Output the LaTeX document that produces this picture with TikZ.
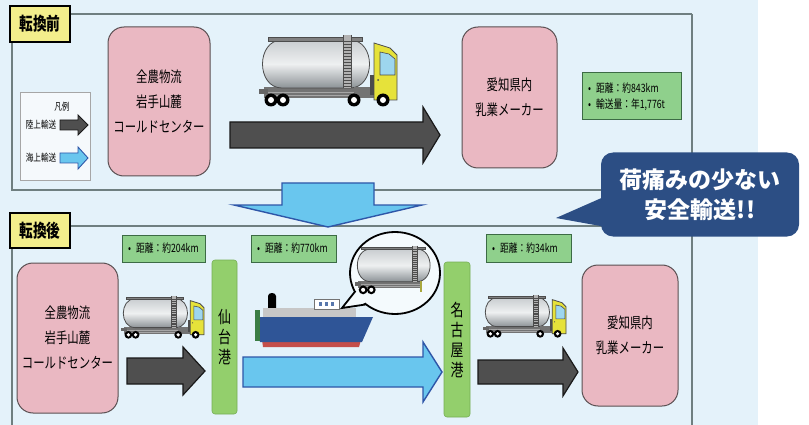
\documentclass[tikz,border=0pt]{standalone}
\usepackage{fontspec}
\setmainfont{Noto Sans CJK JP}
\newfontfamily\jp[FakeStretch=0.76]{Noto Sans CJK JP}
\newfontfamily\jpn{Noto Sans CJK JP}
\usetikzlibrary{calc}

\definecolor{bgblue}{HTML}{E4F2FA}
\definecolor{framegrey}{HTML}{6F7F80}
\definecolor{pinkfill}{HTML}{EAB8C2}
\definecolor{pinkline}{HTML}{5A5052}
\definecolor{infofill}{HTML}{8FD08C}
\definecolor{infoline}{HTML}{3C6B45}
\definecolor{portfill}{HTML}{93CF6C}
\definecolor{portline}{HTML}{76AE55}
\definecolor{tagfill}{HTML}{F3EE8C}
\definecolor{landfill}{HTML}{4F4F4F}
\definecolor{seafill}{HTML}{69C6EE}
\definecolor{sealine}{HTML}{2E56A8}
\definecolor{callfill}{HTML}{2C4E84}
\definecolor{legendfill}{HTML}{F5F9FC}
\definecolor{tankT}{HTML}{C9CDD0}
\definecolor{tankM}{HTML}{EEF0F1}
\definecolor{tankB}{HTML}{8C9296}
\definecolor{cabyellow}{HTML}{E6E23A}
\definecolor{winblue}{HTML}{9DD6EE}
\definecolor{hullblue}{HTML}{2F5597}
\definecolor{hullred}{HTML}{C44E4A}
\definecolor{bowgreen}{HTML}{3A7D44}

\tikzset{
  site/.style={draw=pinkline, line width=1pt, fill=pinkfill, rounded corners=16pt,
    font=\jp\fontsize{15}{25}\selectfont, align=center, inner sep=0pt},
  infobox/.style={draw=infoline, line width=1pt, fill=infofill,
    font=\jp\fontsize{11.5}{16}\selectfont, align=left, inner sep=0pt},
  portbox/.style={draw=portline, line width=0.6pt, fill=portfill, rounded corners=3pt,
    font=\jp\fontsize{17}{20}\selectfont, align=center, inner sep=0pt},
  phasetag/.style={draw=black, line width=1.3pt, fill=tagfill,
    font=\jp\bfseries\fontsize{18}{20}\selectfont, inner sep=0pt},
  panelframe/.style={draw=framegrey, line width=1.3pt},
  landarrow/.style={draw=black!90, line width=1.2pt, fill=landfill, line join=miter},
  seaarrow/.style={draw=sealine, line width=1.2pt, fill=seafill, line join=miter},
  legendtext/.style={font=\jp\fontsize{10}{12}\selectfont, inner sep=0pt},
  outl/.style={draw=black!70, line width=0.8pt},
  % tank trailer: tank, ladder, chassis and rear wheels
  tanktrailer/.pic={
    \fill[black!55] (2,50) rectangle (92,61);
    \draw[black!35, line width=0.5pt] (4,55) -- (92,55) (4,58) -- (92,58);
    \fill[black!60] (-3,52) rectangle (6,57);
    \draw[outl, top color=tankT, bottom color=tankB, middle color=tankM]
      (20,3) -- (88,3) .. controls (114,3) and (114,51) .. (88,51)
      -- (20,51) .. controls (-6,51) and (-6,3) .. (20,3) -- cycle;
    \draw[outl, fill=black!50] (6,0) rectangle (100,4);
    \fill[black!30] (81,-2) rectangle (89,51);
    \draw[black!70, line width=0.7pt] (81,-2) -- (81,51) (89,-2) -- (89,51);
    \foreach \r in {4,10,...,46} {\draw[black!70, line width=0.6pt] (81,\r) rectangle (89,\r+3);}
    \foreach \w in {9,21} {
      \fill[black] (\w,63) circle[radius=6.5];
      \fill[white] (\w,63) circle[radius=3];
    }
  },
  % tractor unit: cab, coupling and front wheels
  tankcab/.pic={
    \fill[black!55] (92,50) rectangle (113,61);
    \fill[black!70] (108,38) rectangle (113,58);
    \draw[outl, fill=cabyellow] (112,6) -- (128,11) -- (135,18) -- (135,63) -- (112,63) -- cycle;
    \draw[black!70, line width=0.6pt, fill=winblue] (118,15) -- (127,17) -- (133,22) -- (133,38) -- (118,38) -- cycle;
    \fill[black!70] (116,43) circle[radius=1];
    \foreach \w in {92,121} {
      \fill[black] (\w,63) circle[radius=6.5];
      \fill[white] (\w,63) circle[radius=3];
    }
  }
}

\begin{document}
\begin{tikzpicture}[x=1pt, y=-1pt]
\useasboundingbox (0,0) rectangle (809,425);
\fill[white] (0,0) rectangle (809,425);
\fill[bgblue] (0,0) rectangle (758,425);

% ---------- panels ----------
\draw[panelframe] (692,14) -- (12,14) -- (12,190) -- (692,190);
\draw[panelframe] (12,425) -- (12,226) -- (692,226);
\draw[panelframe] (692,14) -- (692,425);

\node[phasetag, minimum width=60pt, minimum height=36pt] (before) at (40,24) {転換前};
\node[phasetag, minimum width=60pt, minimum height=35pt] (after) at (40,230.5) {転換後};

% ---------- legend ----------
\node[draw=black!35, line width=0.8pt, fill=legendfill, minimum width=70pt, minimum height=88pt,
  inner sep=0pt] (legend) at (55,136) {};
\node[legendtext] (lgtitle) at (62,107) {凡例};
\node[legendtext] (lgland) at (41,125) {陸上輸送};
\node[legendtext] (lgsea) at (41,158) {海上輸送};
\draw[landarrow, line width=0.9pt] (60,120) -- (78,120) -- (78,115) -- (88,125) -- (78,135) -- (78,130) -- (60,130) -- cycle;
\draw[seaarrow, line width=0.9pt] (60,153) -- (78,153) -- (78,147) -- (88,158) -- (78,169) -- (78,163) -- (60,163) -- cycle;

% ---------- before ----------
\node[site, minimum width=102pt, minimum height=149pt] (farmA) at (159,101.5)
  {全農物流\\岩手山麓\\コールドセンター};
\node[site, minimum width=95pt, minimum height=141pt] (dairyA) at (509.5,97.5)
  {愛知県内\\乳業メーカー};
\node[infobox, minimum width=99pt, minimum height=47pt] (infoA) at (631.5,96.5) {};
\node[font=\jp\fontsize{11.5}{16}\selectfont, align=left, anchor=west, inner sep=0pt] (infoAtxt) at (588,96.5)
  {•\hspace{5pt}距離：約843km\\•\hspace{5pt}輸送量：年1,776t};

\pic at (262,37) {tanktrailer};
\pic at (262,37) {tankcab};

\draw[landarrow] (230,122) -- (423,122) -- (423,107) -- (440,135) -- (423,163) -- (423,148) -- (230,148) -- cycle;

% ---------- transition arrow ----------
\draw[seaarrow, line width=1.4pt] (282,183) -- (374,183) -- (374,205) -- (422,205) -- (328,227)
  -- (234,205) -- (282,205) -- cycle;

% ---------- after ----------
\node[site, minimum width=101pt, minimum height=150pt] (farmB) at (67.5,338)
  {全農物流\\岩手山麓\\コールドセンター};
\node[site, minimum width=96pt, minimum height=141pt] (dairyB) at (630,335.5)
  {愛知県内\\乳業メーカー};

\node[infobox, minimum width=83pt, minimum height=27pt] (infoB1) at (163.5,248.5) {};
\node[infobox, minimum width=85pt, minimum height=27pt] (infoB2) at (293.5,248.5) {};
\node[infobox, minimum width=85pt, minimum height=28pt] (infoB3) at (528.5,248.5) {};
\node[font=\jp\fontsize{11.5}{16}\selectfont, anchor=west, inner sep=0pt] at (128,248.5) {•\hspace{5pt}距離：約204km};
\node[font=\jp\fontsize{11.5}{16}\selectfont, anchor=west, inner sep=0pt] at (257,248.5) {•\hspace{5pt}距離：約770km};
\node[font=\jp\fontsize{11.5}{16}\selectfont, anchor=west, inner sep=0pt] at (492,248.5) {•\hspace{5pt}距離：約34km};

\node[portbox, minimum width=25pt, minimum height=154pt] (sendai) at (224.5,337) {仙\\台\\港};
\node[portbox, minimum width=26pt, minimum height=155pt] (nagoya) at (457,339.5) {名\\古\\屋\\港};

% trucks
\pic[scale=0.6] at (123,297) {tanktrailer};
\pic[scale=0.6] at (123,297) {tankcab};
\pic[scale=0.6] at (485,296) {tanktrailer};
\pic[scale=0.6] at (485,296) {tankcab};

% land and sea legs
\draw[landarrow] (127,358) -- (183,358) -- (183,347) -- (205,371) -- (183,395) -- (183,384) -- (127,384) -- cycle;
\draw[seaarrow, line width=1.4pt] (243,357) -- (423,357) -- (423,342) -- (442,372) -- (423,402) -- (423,387) -- (243,387) -- cycle;
\draw[landarrow] (478,360) -- (563,360) -- (563,348) -- (578,372) -- (563,396) -- (563,384) -- (478,384) -- cycle;

% ship
\fill[black] (268,309) -- (268,296) .. controls (268,292) and (276,292) .. (276,296) -- (276,309) -- cycle;
\fill[black!22] (263,308) rectangle (356,318);
\draw[black!55, line width=0.7pt, fill=white] (314,299) rectangle (339,309);
\foreach \wx in {320,326,332} {\fill[hullblue!80] (\wx-1.5,302) rectangle (\wx+1.5,306);}
\fill[hullred] (262,340) -- (361,340) -- (359,347) -- (263,347) -- cycle;
\fill[hullblue] (258,317) -- (373,317) -- (362,342) -- (260,342) -- cycle;
\fill[bowgreen] (255,310) rectangle (260,341);

% speech bubble with tank trailer
\draw[black, line width=1.8pt, fill=bgblue!40] (395,273) ellipse[x radius=45, y radius=41];
\fill[bgblue!40] (356,290) -- (342,308) -- (365,303) -- (368,297) -- cycle;
\draw[black, line width=1.8pt, line join=miter] (355.5,291) -- (342,308) -- (365.5,304.5);
\pic[scale=0.68] at (357,247) {tanktrailer};
\fill[cabyellow!70!black!90] (419.5,281) rectangle (421.5,292);

% ---------- callout ----------
\fill[callfill] (606,196) -- (556,218) -- (606,227) -- cycle;
\node[fill=callfill, rounded corners=12pt, minimum width=198pt, minimum height=84pt,
  text=white, font=\jpn\bfseries\fontsize{23}{30}\selectfont, align=center, inner sep=0pt]
  (callout) at (700,194.5) {荷痛みの少ない\\安全輸送!!};
\end{tikzpicture}
\end{document}
